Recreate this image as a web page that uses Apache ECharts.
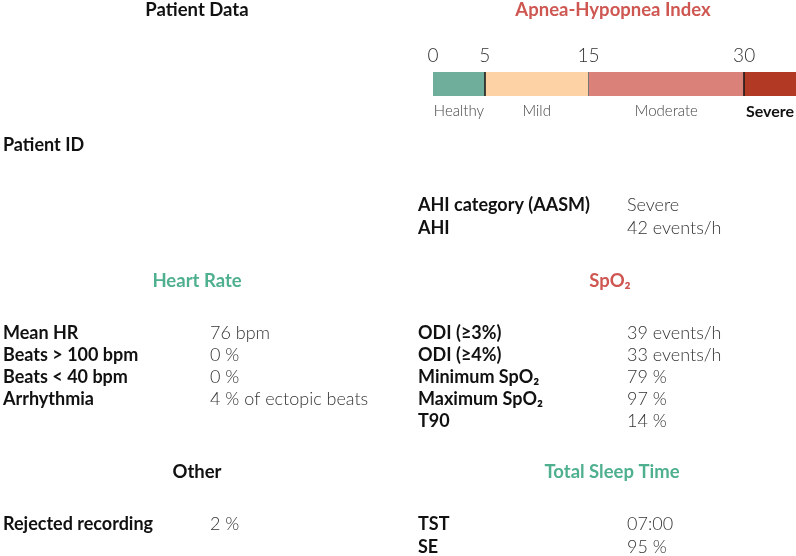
<!DOCTYPE html>
<html>
<head>
<meta charset="utf-8">
<script src="https://cdn.jsdelivr.net/npm/echarts@6/dist/echarts.min.js"></script>
<style>html,body{margin:0;padding:0;background:#fff}#c{width:796px;height:556px}</style>
</head>
<body>
<div id="c"></div>
<script>
// ---- data ----
var ahiCategories = ['Healthy', 'Mild', 'Moderate', 'Severe'];
var ahiSegmentWidths = [5, 10, 15, 5];
var ahiTickValues = [0, 5, 15, 30];
var ahiColors = ['#6fae9b', '#fdd3a6', '#da827a', '#b23a25'];

var patientLabels = ['Patient ID'];
var ahiLabels = ['AHI category (AASM)', 'AHI'];
var ahiValues = ['Severe', '42 events/h'];
var hrLabels = ['Mean HR', 'Beats > 100 bpm', 'Beats < 40 bpm', 'Arrhythmia'];
var hrValues = ['76 bpm', '0 %', '0 %', '4 % of ectopic beats'];
var spo2Labels = ['ODI (≥3%)', 'ODI (≥4%)', 'Minimum SpO₂', 'Maximum SpO₂', 'T90'];
var spo2Values = ['39 events/h', '33 events/h', '79 %', '97 %', '14 %'];
var otherLabels = ['Rejected recording'];
var otherValues = ['2 %'];
var tstLabels = ['TST', 'SE'];
var tstValues = ['07:00', '95 %'];

// ---- render ----
var FONT = 'Lato, "Noto Sans", sans-serif';
var chart = echarts.init(document.getElementById('c'));
var graphics = [];
function heading(text, cx, cy, color) {
  graphics.push({type: 'text', x: cx, y: cy, style: {text: text, fill: color, font: 'bold 18.5px ' + FONT, textAlign: 'center', textVerticalAlign: 'middle'}});
}
function table(labels, values, lx, vx, y0, dy) {
  labels.forEach(function (l, i) {
    graphics.push({type: 'text', x: lx, y: y0 + i * dy, style: {text: l, fill: '#111', font: 'bold 18px ' + FONT, textVerticalAlign: 'middle'}});
    if (values && values[i] != null) {
      graphics.push({type: 'text', x: vx, y: y0 + i * dy, style: {text: values[i], fill: '#333', font: '300 18px ' + FONT, textVerticalAlign: 'middle'}});
    }
  });
}
heading('Patient Data', 197, 10, '#111');
heading('Apnea-Hypopnea Index', 613, 10, '#cf5752');
heading('Heart Rate', 197, 281, '#4fb08f');
heading('SpO₂', 610, 281, '#cf5752');
heading('Other', 197, 472, '#111');
heading('Total Sleep Time', 612, 472, '#4fb08f');
table(patientLabels, null, 3, 0, 145, 23);
table(ahiLabels, ahiValues, 418, 627, 205.5, 23);
table(hrLabels, hrValues, 3, 210, 333, 22);
table(spo2Labels, spo2Values, 418, 627, 333, 22);
table(otherLabels, otherValues, 3, 210, 524, 23);
table(tstLabels, tstValues, 418, 627, 524, 23);

var series = ahiCategories.map(function (name, i) {
  var s = {
    type: 'bar', name: name, stack: 'ahi', data: [ahiSegmentWidths[i]],
    barWidth: '100%', itemStyle: {color: ahiColors[i]},
    label: {show: true, position: 'bottom', distance: 8, formatter: name,
      color: i === 3 ? '#111' : '#444', fontFamily: FONT,
      fontSize: i === 3 ? 16 : 15, fontWeight: i === 3 ? 'bold' : 300},
    silent: true
  };
  if (i === 0) {
    s.markLine = {symbol: 'none', silent: true, label: {show: false},
      data: [
        {xAxis: 5, lineStyle: {color: '#111', width: 1.5, type: 'solid'}},
        {xAxis: 15, lineStyle: {color: '#777', width: 1, type: 'solid'}},
        {xAxis: 30, lineStyle: {color: '#111', width: 1.5, type: 'solid'}}
      ]};
  }
  return s;
});

chart.setOption({
  animation: false,
  grid: {left: 433, right: 0, top: 72, height: 24, containLabel: false},
  xAxis: {type: 'value', min: 0, max: 35, position: 'top',
    axisLine: {show: false}, axisTick: {show: false}, splitLine: {show: false},
    axisLabel: {customValues: ahiTickValues, color: '#333', fontFamily: FONT, fontSize: 19, fontWeight: 300, margin: 7}},
  yAxis: {type: 'category', data: ['AHI'], show: false},
  series: series,
  graphic: graphics
});
</script>
</body>
</html>
